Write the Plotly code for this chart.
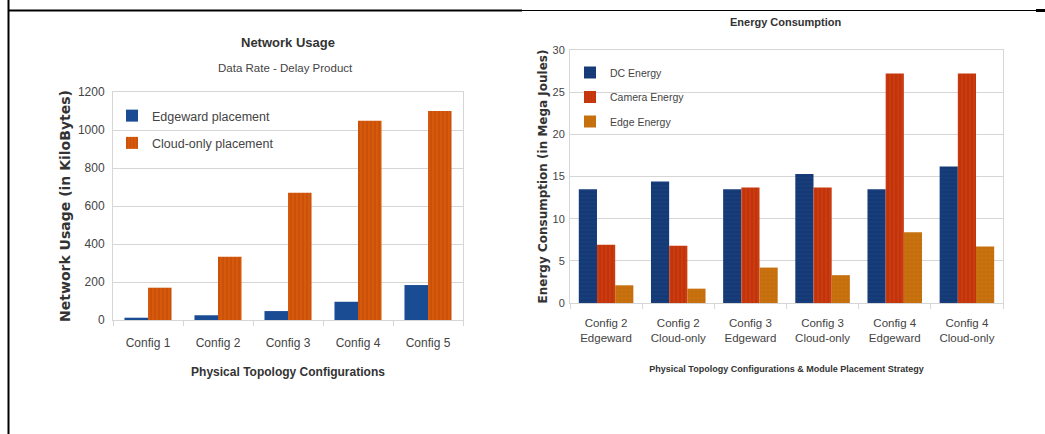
import plotly.graph_objects as go

# ---------------- data ----------------
net_configs = ["Config 1", "Config 2", "Config 3", "Config 4", "Config 5"]
net_edgeward = [12, 25, 47, 96, 184]
net_cloud = [170, 333, 670, 1049, 1100]
net_yticks = [0, 200, 400, 600, 800, 1000, 1200]

energy_cats = ["Config 2<br>Edgeward", "Config 2<br>Cloud-only", "Config 3<br>Edgeward",
               "Config 3<br>Cloud-only", "Config 4<br>Edgeward", "Config 4<br>Cloud-only"]
dc_energy = [13.5, 14.4, 13.5, 15.3, 13.5, 16.2]
camera_energy = [6.9, 6.8, 13.7, 13.7, 27.2, 27.2]
edge_energy = [2.1, 1.7, 4.2, 3.3, 8.4, 6.7]
energy_yticks = [0, 5, 10, 15, 20, 25, 30]

W, H = 1045, 434
SANS = "Liberation Sans, Arial, sans-serif"
WIDE = "DejaVu Sans, Verdana, sans-serif"
TXT = "#333333"
TICK = "#444444"

def px(x):
    return x / W

def py(y):
    return 1 - y / H

fig = go.Figure()

# ---- left chart bars ----
bw_l = 0.336
fig.add_trace(go.Bar(x=net_configs, y=net_edgeward, name="Edgeward placement",
                     marker=dict(color="#1a4c94", line=dict(width=0)),
                     width=bw_l, offset=-bw_l, xaxis="x", yaxis="y",
                     legend="legend", legendgroup="a"))
fig.add_trace(go.Bar(x=net_configs, y=net_cloud, name="Cloud-only placement",
                     marker=dict(color="#d7590c", line=dict(width=0),
                                 pattern=dict(shape="|", fgcolor="#a8420a", size=4, solidity=0.25, fgopacity=0.6)),
                     width=bw_l, offset=0, xaxis="x", yaxis="y",
                     legend="legend", legendgroup="b"))

# ---- right chart bars ----
bw_r = 0.252
fig.add_trace(go.Bar(x=energy_cats, y=dc_energy, name="DC Energy",
                     marker=dict(color="#173d7c", line=dict(width=0),
                                 pattern=dict(shape="-", fgcolor="#0f2c5c", size=4, solidity=0.25, fgopacity=0.6)),
                     width=bw_r, offset=-1.5 * bw_r, xaxis="x2", yaxis="y2",
                     legend="legend2", legendgroup="c"))
fig.add_trace(go.Bar(x=energy_cats, y=camera_energy, name="Camera Energy",
                     marker=dict(color="#cc3a0e", line=dict(width=0),
                                 pattern=dict(shape="|", fgcolor="#a02a08", size=4, solidity=0.25, fgopacity=0.6)),
                     width=bw_r, offset=-0.5 * bw_r, xaxis="x2", yaxis="y2",
                     legend="legend2", legendgroup="d"))
fig.add_trace(go.Bar(x=energy_cats, y=edge_energy, name="Edge Energy",
                     marker=dict(color="#c9720f", line=dict(width=0),
                                 pattern=dict(shape="+", fgcolor="#a85a08", size=4, solidity=0.2, fgopacity=0.5)),
                     width=bw_r, offset=0.5 * bw_r, xaxis="x2", yaxis="y2",
                     legend="legend2", legendgroup="e"))

axis_common = dict(showline=True, linecolor="#d6d6d6", linewidth=1, mirror=True,
                   zeroline=False, automargin=False)

fig.update_layout(
    width=W, height=H,
    margin=dict(l=0, r=0, t=0, b=0, autoexpand=False),
    paper_bgcolor="white", plot_bgcolor="white",
    barmode="group",
    font=dict(family=SANS, color=TXT),
    xaxis=dict(domain=[px(113), px(463)], anchor="y", **axis_common,
               showgrid=False, ticks="outside", tickson="boundaries", ticklen=5, tickcolor="#d6d6d6",
               ticklabelstandoff=12,
               tickfont=dict(size=12, family=SANS, color=TICK),
               title=dict(text="Physical Topology Configurations", standoff=18,
                          font=dict(size=12, family=SANS, weight="bold", color=TXT))),
    yaxis=dict(domain=[py(320), py(92)], anchor="x", range=[0, 1200], tickvals=net_yticks,
               **axis_common, showgrid=True, gridcolor="#d6d6d6", gridwidth=1,
               ticks="", ticklabelstandoff=5,
               tickfont=dict(size=12, family=SANS, color=TICK),
               title=dict(text="Network Usage (in KiloBytes)", standoff=3,
                          font=dict(size=14, family=WIDE, weight="bold", color=TXT))),
    xaxis2=dict(domain=[px(570), px(1003)], anchor="y2", **axis_common,
                showgrid=False, ticks="outside", tickson="boundaries", ticklen=5, tickcolor="#d6d6d6",
                ticklabelstandoff=9,
                tickfont=dict(size=11.5, family=SANS, color=TICK),
                title=dict(text="Physical Topology Configurations & Module Placement Strategy", standoff=22,
                           font=dict(size=9, family=SANS, weight="bold", color=TXT))),
    yaxis2=dict(domain=[py(303), py(50)], anchor="x2", range=[0, 30], tickvals=energy_yticks,
                **axis_common, showgrid=True, gridcolor="#d6d6d6", gridwidth=1,
                ticks="", ticklabelstandoff=2,
                tickfont=dict(size=11, family=SANS, color=TICK),
                title=dict(text="Energy Consumption (in Mega Joules)", standoff=2,
                           font=dict(size=12, family=WIDE, weight="bold", color=TXT))),
    legend=dict(x=px(112), y=py(101), xanchor="left", yanchor="top",
                bgcolor="rgba(0,0,0,0)", font=dict(size=12.5, family=SANS, color=TICK),
                tracegroupgap=8, itemwidth=30, traceorder="grouped"),
    legend2=dict(x=px(570), y=py(58), xanchor="left", yanchor="top",
                 bgcolor="rgba(0,0,0,0)", font=dict(size=10.5, family=SANS, color=TICK),
                 tracegroupgap=5.5, itemwidth=30, traceorder="grouped"),
    showlegend=True,
)

# chart titles
fig.add_annotation(text="Network Usage", x=px(288), y=py(42), xref="paper", yref="paper",
                   xanchor="center", yanchor="middle", showarrow=False,
                   font=dict(size=13, family=SANS, weight="bold", color=TXT))
fig.add_annotation(text="Data Rate - Delay Product", x=px(285), y=py(68), xref="paper", yref="paper",
                   xanchor="center", yanchor="middle", showarrow=False,
                   font=dict(size=11.5, family=SANS, color=TICK))
fig.add_annotation(text="Energy Consumption", x=px(786), y=py(22), xref="paper", yref="paper",
                   xanchor="center", yanchor="middle", showarrow=False,
                   font=dict(size=11, family=SANS, weight="bold", color=TXT))

# frame lines of the surrounding table
fig.add_shape(type="line", xref="paper", yref="paper", x0=px(8.5), x1=px(8.5), y0=0, y1=1,
              line=dict(color="black", width=2))
fig.add_shape(type="line", xref="paper", yref="paper", x0=px(8), x1=px(522), y0=py(10.5), y1=py(10.5),
              line=dict(color="black", width=2))
fig.add_shape(type="line", xref="paper", yref="paper", x0=px(522), x1=px(1036), y0=py(10.5), y1=py(10.5),
              line=dict(color="black", width=1.2))
fig.add_shape(type="line", xref="paper", yref="paper", x0=px(1036), x1=px(1045), y0=py(10.5), y1=py(10.5),
              line=dict(color="black", width=3))

fig.write_html("out.html", config={"displayModeBar": False},
               post_script="document.body.style.margin='0px';")
